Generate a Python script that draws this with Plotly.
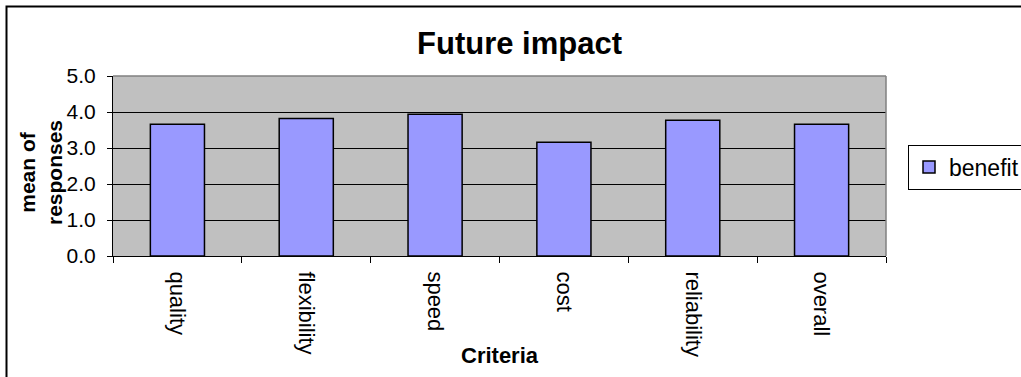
import plotly.graph_objects as go

categories = ["quality", "flexibility", "speed", "cost", "reliability", "overall"]
benefit = [3.66, 3.82, 3.94, 3.16, 3.77, 3.66]
y_ticks = [0, 1, 2, 3, 4, 5]

W, H = 1021, 377
L, R, T, B = 113, 886, 76, 256
pw, ph = R - L, B - T

def px(x):
    return (x - L) / pw

def py(y):
    return (B - y) / ph

FONT = "Liberation Sans, Arial, sans-serif"

fig = go.Figure()
fig.add_trace(go.Bar(
    x=categories, y=benefit, name="benefit",
    marker=dict(color="#9999FF", line=dict(color="black", width=1.5)),
))

fig.update_layout(
    width=W, height=H,
    margin=dict(l=L, r=W - R, t=T, b=H - B, pad=0, autoexpand=False),
    paper_bgcolor="white",
    plot_bgcolor="#C0C0C0",
    bargap=0.58,
    font=dict(family=FONT, color="black", size=17),
    title=dict(text="<b>Future impact</b>", x=519.5 / W, xanchor="center",
               y=1 - 43 / H, yanchor="middle", xref="container", yref="container",
               font=dict(size=31, family=FONT, color="black")),
    showlegend=True,
    legend=dict(x=px(908), xanchor="left", y=py(167), yanchor="middle",
                bordercolor="black", borderwidth=1, bgcolor="white",
                font=dict(size=23, family=FONT), itemwidth=30),
    xaxis=dict(
        type="category", tickangle=90, tickson="boundaries",
        ticks="outside", ticklen=6, tickcolor="black",
        showline=True, linecolor="black", linewidth=1,
        showgrid=False, tickfont=dict(size=22, family=FONT),
        ticklabelstandoff=10, automargin=False,
    ),
    yaxis=dict(
        range=[0, 5], tickvals=y_ticks, tickformat=".1f",
        ticks="outside", ticklen=5, tickcolor="black",
        showline=True, linecolor="black", linewidth=1,
        showgrid=True, gridcolor="black", gridwidth=1,
        zeroline=False, tickfont=dict(size=21, family=FONT),
        ticklabelstandoff=7, automargin=False,
    ),
    shapes=[
        dict(type="line", xref="paper", yref="paper", x0=0, x1=1, y0=1, y1=1,
             line=dict(color="#808080", width=1.5), layer="above"),
        dict(type="line", xref="paper", yref="paper", x0=1, x1=1, y0=0, y1=1,
             line=dict(color="#808080", width=1.5), layer="above"),
        dict(type="rect", xref="paper", yref="paper",
             x0=px(6.5), x1=px(1030), y0=py(385), y1=py(6.5),
             line=dict(color="black", width=2), layer="below"),
    ],
    annotations=[
        dict(text="<b>mean of<br>responses</b>", textangle=-90, xref="paper", yref="paper",
             x=px(41), y=py(173), xanchor="center", yanchor="middle", showarrow=False,
             font=dict(size=21, family=FONT)),
        dict(text="<b>Criteria</b>", xref="paper", yref="paper",
             x=px(499.5), y=py(355), xanchor="center", yanchor="middle", showarrow=False,
             font=dict(size=22, family=FONT)),
    ],
)

fig.write_html("out.html")
